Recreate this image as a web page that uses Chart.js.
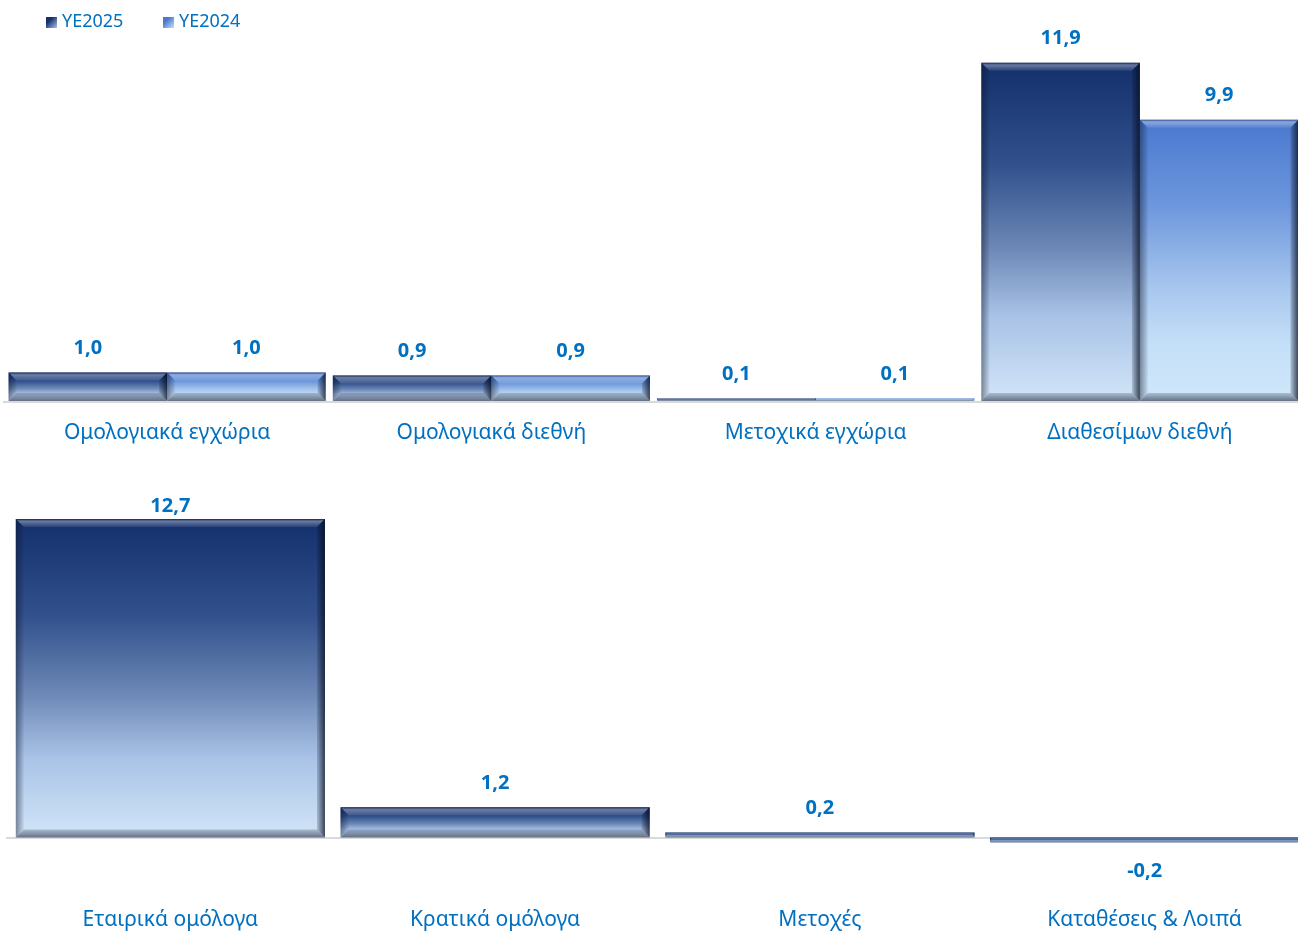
<!DOCTYPE html>
<html lang="el">
<head>
<meta charset="utf-8">
<script src="https://cdn.jsdelivr.net/npm/chart.js@4.4.1/dist/chart.umd.min.js"></script>
<style>
  html, body { margin: 0; padding: 0; background: #fff; overflow: hidden; width: 1298px; height: 931px; }
  .wrap { position: absolute; left: 0; width: 1310px; }
  #topWrap { top: 0; height: 460px; }
  #bottomWrap { top: 455px; height: 476px; }
  .legend-item { position: absolute; top: 8px; font: 18px "Noto Sans", sans-serif; color: #0070C0; line-height: 24px; z-index: 2; }
  .legend-item i { display: inline-block; width: 11px; height: 11px; margin-right: 5px; vertical-align: -1px; }
</style>
</head>
<body>
<div class="wrap" id="topWrap"><canvas id="topChart"></canvas></div>
<div class="wrap" id="bottomWrap"><canvas id="bottomChart"></canvas></div>
<div id="legend"></div>
<script>
// data
const topCategories = ['Ομολογιακά εγχώρια', 'Ομολογιακά διεθνή', 'Μετοχικά εγχώρια', 'Διαθεσίμων διεθνή'];
const ye2025 = [1.0, 0.9, 0.1, 11.9];
const ye2024 = [1.0, 0.9, 0.1, 9.9];
const seriesLabels = ['YE2025', 'YE2024'];

const bottomCategories = ['Εταιρικά ομόλογα', 'Κρατικά ομόλογα', 'Μετοχές', 'Καταθέσεις & Λοιπά'];
const bottomValues = [12.7, 1.2, 0.2, -0.2];

const textBlue = '#0070C0';
const darkStops = [[0, '#132f6c'], [0.3, '#31508c'], [0.55, '#6d88b6'], [0.75, '#a9c3e7'], [1, '#d2e5f8']];
const lightStops = [[0, '#4a78cf'], [0.3, '#6c96dc'], [0.6, '#a8c7ee'], [0.8, '#c4dff8'], [1, '#d0e7fa']];

// vertical gradient per bar, from the bar's own top to bottom
function barFill(ctx, stops) {
  const chart = ctx.chart;
  const y = chart.scales.y;
  if (!chart.chartArea || !y || !ctx.parsed) return stops[0][1];
  const v = ctx.parsed.y;
  const top = y.getPixelForValue(Math.max(v, 0));
  const bottom = y.getPixelForValue(Math.min(v, 0));
  const g = chart.ctx.createLinearGradient(0, top, 0, Math.max(bottom, top + 1));
  stops.forEach(s => g.addColorStop(s[0], s[1]));
  return g;
}

function poly(c, pts, fill) {
  c.beginPath();
  c.moveTo(pts[0][0], pts[0][1]);
  for (let i = 1; i < pts.length; i++) c.lineTo(pts[i][0], pts[i][1]);
  c.closePath();
  c.fillStyle = fill;
  c.fill();
}

// bevelled edges like the office chart style
const bevel = {
  id: 'bevel',
  afterDatasetsDraw(chart) {
    const c = chart.ctx;
    chart.data.datasets.forEach((ds, di) => {
      chart.getDatasetMeta(di).data.forEach(bar => {
        const p = bar.getProps(['x', 'y', 'base', 'width'], true);
        const l = p.x - p.width / 2, r = p.x + p.width / 2;
        const t = Math.min(p.y, p.base), b = Math.max(p.y, p.base);
        const h = b - t;
        if (h < 1) return;
        const e = Math.min(8, h / 3);
        c.save();
        let g = c.createLinearGradient(0, t, 0, t + e);
        g.addColorStop(0, 'rgba(5,20,60,0.55)');
        g.addColorStop(0.3, 'rgba(255,255,255,0.35)');
        g.addColorStop(1, 'rgba(255,255,255,0.08)');
        poly(c, [[l, t], [r, t], [r - e, t + e], [l + e, t + e]], g);
        g = c.createLinearGradient(l, 0, l + e, 0);
        g.addColorStop(0, 'rgba(10,20,40,0.45)');
        g.addColorStop(1, 'rgba(10,20,40,0.05)');
        poly(c, [[l, t], [l + e, t + e], [l + e, b - e], [l, b]], g);
        g = c.createLinearGradient(r - e, 0, r, 0);
        g.addColorStop(0, 'rgba(5,12,30,0.15)');
        g.addColorStop(1, 'rgba(5,12,30,0.75)');
        poly(c, [[r, t], [r, b], [r - e, b - e], [r - e, t + e]], g);
        g = c.createLinearGradient(0, b - e, 0, b);
        g.addColorStop(0, 'rgba(60,70,90,0.25)');
        g.addColorStop(1, 'rgba(40,50,70,0.65)');
        poly(c, [[l, b], [l + e, b - e], [r - e, b - e], [r, b]], g);
        c.restore();
      });
    });
  }
};

// zero line under the bars
const baseline = {
  id: 'baseline',
  beforeDatasetsDraw(chart) {
    const c = chart.ctx;
    const y0 = Math.round(chart.scales.y.getPixelForValue(0)) + 1;
    c.save();
    c.strokeStyle = '#d9d9d9';
    c.lineWidth = 2;
    c.beginPath();
    c.moveTo(chart.chartArea.left - 2, y0);
    c.lineTo(chart.chartArea.right, y0);
    c.stroke();
    c.restore();
  }
};

// value labels above (or below) each bar, kept inside the plot top
const valueLabels = {
  id: 'valueLabels',
  afterDraw(chart) {
    const c = chart.ctx;
    c.save();
    c.font = 'bold 20px "Noto Sans", sans-serif';
    c.fillStyle = textBlue;
    c.textAlign = 'center';
    c.textBaseline = 'middle';
    chart.data.datasets.forEach((ds, di) => {
      chart.getDatasetMeta(di).data.forEach((bar, i) => {
        const v = ds.data[i];
        const txt = v.toFixed(1).replace('.', ',');
        const ty = v >= 0 ? Math.max(bar.y - 24, chart.chartArea.top + 7) : bar.y + 29;
        c.fillText(txt, bar.x, ty);
      });
    });
    c.restore();
  }
};

function baseOptions(opts) {
  return {
    responsive: true,
    maintainAspectRatio: false,
    animation: false,
    layout: { padding: opts.padding },
    plugins: { legend: { display: false }, tooltip: { enabled: false } },
    scales: {
      x: {
        grid: { display: false, drawTicks: false },
        border: { display: false },
        ticks: { color: textBlue, font: { family: 'Noto Sans', size: 21 }, padding: opts.tickPadding, maxRotation: 0 },
        afterFit: s => { s.height = opts.axisHeight; }
      },
      y: {
        min: opts.min,
        max: opts.max,
        grid: { display: false, drawTicks: false },
        border: { display: false },
        ticks: { display: false }
      }
    }
  };
}

const topChart = new Chart(document.getElementById('topChart'), {
  type: 'bar',
  data: {
    labels: topCategories,
    datasets: [
      { label: seriesLabels[0], data: ye2025, backgroundColor: ctx => barFill(ctx, darkStops), categoryPercentage: 0.978, barPercentage: 1.0 },
      { label: seriesLabels[1], data: ye2024, backgroundColor: ctx => barFill(ctx, lightStops), categoryPercentage: 0.978, barPercentage: 1.0 }
    ]
  },
  options: baseOptions({ padding: { top: 23, left: 5, right: 8, bottom: 0 }, tickPadding: 19, axisHeight: 59, min: 0, max: 13.3 }),
  plugins: [baseline, bevel, valueLabels]
});

const bottomChart = new Chart(document.getElementById('bottomChart'), {
  type: 'bar',
  data: {
    labels: bottomCategories,
    datasets: [
      { label: seriesLabels[0], data: bottomValues, backgroundColor: ctx => barFill(ctx, darkStops), categoryPercentage: 0.952, barPercentage: 1.0 }
    ]
  },
  options: baseOptions({ padding: { top: 44, left: 8, right: 3, bottom: 0 }, tickPadding: 32, axisHeight: 56, min: -1.5, max: 13.5 }),
  plugins: [baseline, bevel, valueLabels]
});

// legend
const legendEl = document.getElementById('legend');
const legendLeft = [46, 163];
const legendStops = [darkStops, lightStops];
seriesLabels.forEach((name, i) => {
  const item = document.createElement('div');
  item.className = 'legend-item';
  item.style.left = legendLeft[i] + 'px';
  const sw = document.createElement('i');
  sw.style.background = 'linear-gradient(135deg, ' + legendStops[i][0][1] + ' 30%, ' + legendStops[i][3][1] + ')';
  item.appendChild(sw);
  item.appendChild(document.createTextNode(name));
  legendEl.appendChild(item);
});
</script>
</body>
</html>
